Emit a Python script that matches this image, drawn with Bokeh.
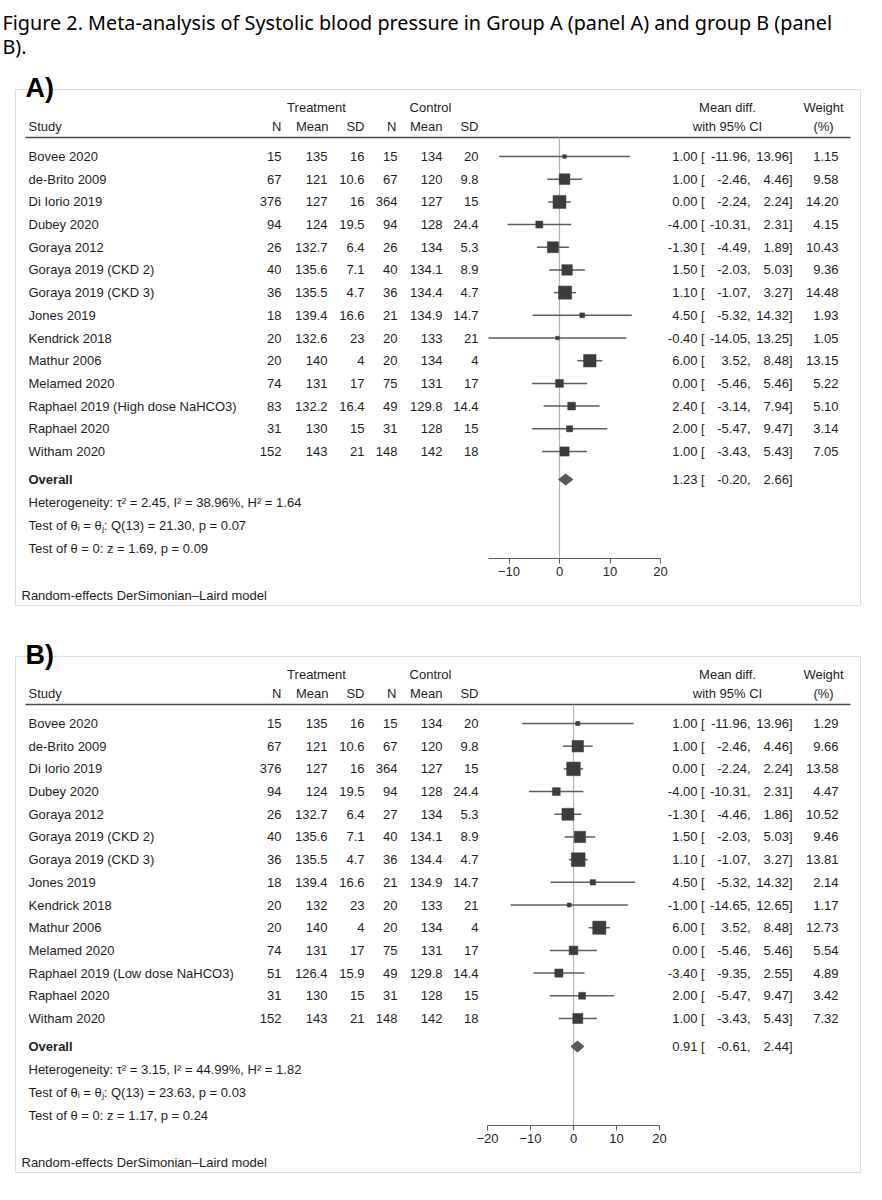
from bokeh.plotting import figure
from bokeh.models import Range1d, LinearAxis, FixedTicker
from bokeh.core.properties import value
from bokeh.embed import file_html
from bokeh.resources import INLINE

# ---------------- data ----------------
title_lines = ["Figure 2. Meta-analysis of Systolic blood pressure in Group A (panel A) and group B (panel",
               "B)."]

studies_a = ["Bovee 2020", "de-Brito 2009", "Di Iorio 2019", "Dubey 2020", "Goraya 2012",
             "Goraya 2019 (CKD 2)", "Goraya 2019 (CKD 3)", "Jones 2019", "Kendrick 2018",
             "Mathur 2006", "Melamed 2020", "Raphael 2019 (High dose NaHCO3)", "Raphael 2020",
             "Witham 2020"]
t_n_a = ["15", "67", "376", "94", "26", "40", "36", "18", "20", "20", "74", "83", "31", "152"]
t_mean_a = ["135", "121", "127", "124", "132.7", "135.6", "135.5", "139.4", "132.6", "140", "131", "132.2", "130", "143"]
t_sd_a = ["16", "10.6", "16", "19.5", "6.4", "7.1", "4.7", "16.6", "23", "4", "17", "16.4", "15", "21"]
c_n_a = ["15", "67", "364", "94", "26", "40", "36", "21", "20", "20", "75", "49", "31", "148"]
c_mean_a = ["134", "120", "127", "128", "134", "134.1", "134.4", "134.9", "133", "134", "131", "129.8", "128", "142"]
c_sd_a = ["20", "9.8", "15", "24.4", "5.3", "8.9", "4.7", "14.7", "21", "4", "17", "14.4", "15", "18"]
md_a = [1.00, 1.00, 0.00, -4.00, -1.30, 1.50, 1.10, 4.50, -0.40, 6.00, 0.00, 2.40, 2.00, 1.00]
lo_a = [-11.96, -2.46, -2.24, -10.31, -4.49, -2.03, -1.07, -5.32, -14.05, 3.52, -5.46, -3.14, -5.47, -3.43]
hi_a = [13.96, 4.46, 2.24, 2.31, 1.89, 5.03, 3.27, 14.32, 13.25, 8.48, 5.46, 7.94, 9.47, 5.43]
w_a = [1.15, 9.58, 14.20, 4.15, 10.43, 9.36, 14.48, 1.93, 1.05, 13.15, 5.22, 5.10, 3.14, 7.05]
overall_a = [1.23, -0.20, 2.66]
stats_a = ["Heterogeneity: \u03c4\u00b2 = 2.45, I\u00b2 = 38.96%, H\u00b2 = 1.64",
           "Test of \u03b8\u1d62 = \u03b8\u2c7c: Q(13) = 21.30, p = 0.07",
           "Test of \u03b8 = 0: z = 1.69, p = 0.09"]
ticks_a = [-10, 0, 10, 20]

studies_b = ["Bovee 2020", "de-Brito 2009", "Di Iorio 2019", "Dubey 2020", "Goraya 2012",
             "Goraya 2019 (CKD 2)", "Goraya 2019 (CKD 3)", "Jones 2019", "Kendrick 2018",
             "Mathur 2006", "Melamed 2020", "Raphael 2019 (Low dose NaHCO3)", "Raphael 2020",
             "Witham 2020"]
t_n_b = ["15", "67", "376", "94", "26", "40", "36", "18", "20", "20", "74", "51", "31", "152"]
t_mean_b = ["135", "121", "127", "124", "132.7", "135.6", "135.5", "139.4", "132", "140", "131", "126.4", "130", "143"]
t_sd_b = ["16", "10.6", "16", "19.5", "6.4", "7.1", "4.7", "16.6", "23", "4", "17", "15.9", "15", "21"]
c_n_b = ["15", "67", "364", "94", "27", "40", "36", "21", "20", "20", "75", "49", "31", "148"]
c_mean_b = ["134", "120", "127", "128", "134", "134.1", "134.4", "134.9", "133", "134", "131", "129.8", "128", "142"]
c_sd_b = ["20", "9.8", "15", "24.4", "5.3", "8.9", "4.7", "14.7", "21", "4", "17", "14.4", "15", "18"]
md_b = [1.00, 1.00, 0.00, -4.00, -1.30, 1.50, 1.10, 4.50, -1.00, 6.00, 0.00, -3.40, 2.00, 1.00]
lo_b = [-11.96, -2.46, -2.24, -10.31, -4.46, -2.03, -1.07, -5.32, -14.65, 3.52, -5.46, -9.35, -5.47, -3.43]
hi_b = [13.96, 4.46, 2.24, 2.31, 1.86, 5.03, 3.27, 14.32, 12.65, 8.48, 5.46, 2.55, 9.47, 5.43]
w_b = [1.29, 9.66, 13.58, 4.47, 10.52, 9.46, 13.81, 2.14, 1.17, 12.73, 5.54, 4.89, 3.42, 7.32]
overall_b = [0.91, -0.61, 2.44]
stats_b = ["Heterogeneity: \u03c4\u00b2 = 3.15, I\u00b2 = 44.99%, H\u00b2 = 1.82",
           "Test of \u03b8\u1d62 = \u03b8\u2c7c: Q(13) = 23.63, p = 0.03",
           "Test of \u03b8 = 0: z = 1.17, p = 0.24"]
ticks_b = [-20, -10, 0, 10, 20]

footnote = "Random-effects DerSimonian\u2013Laird model"

# ---------------- layout ----------------
W, H = 866, 1184
FONT = "Liberation Sans"
TC = "#1e1e1e"

# forest scales: (zero pixel, px per unit)
zero_a, sc_a = 559, 5.05
zero_b, sc_b = 573, 4.3

p = figure(width=W, height=H, output_backend="svg", toolbar_location=None,
           x_range=Range1d(0, W), y_range=Range1d(H, 0), min_border=0,
           x_axis_type=None, y_axis_type=None)
p.outline_line_color = None
p.background_fill_color = "white"
p.extra_x_ranges = {
    "fa": Range1d(-zero_a / sc_a, (W - zero_a) / sc_a),
    "fb": Range1d(-zero_b / sc_b, (W - zero_b) / sc_b),
}

# title
for i, t in enumerate(title_lines):
    p.text(x=[2], y=[22 + 24 * i], text=[t], text_font=value("Noto Sans"),
           text_font_size="19.8px", text_baseline="middle", text_align="left", text_color="black")


def txt(x, y, t, align="left", size="13px", style="normal", color=TC):
    p.text(x=x, y=y, text=t, text_font=value(FONT), text_font_size=size,
           text_font_style=style, text_baseline="middle", text_align=align, text_color=color)


def panel(dy, letter, rname, k, studies, tn, tm, tsd, cn, cm, csd, md, lo, hi, w,
          overall, stats, ticks, bounds):
    n = len(studies)
    rows_y = [156 + dy + i * 22.69 for i in range(n)]
    # frame box
    p.quad(left=15, right=860, top=89 + dy, bottom=605 + dy,
           fill_color=None, line_color="#dedede", line_width=1)
    txt([25], [87 + dy], [letter], size="27px", style="bold", color="black")
    # headers
    txt([316], [107 + dy], ["Treatment"], align="center")
    txt([430], [107 + dy], ["Control"], align="center")
    txt([727], [107 + dy], ["Mean diff."], align="center")
    txt([823], [107 + dy], ["Weight"], align="center")
    hy = 126 + dy
    txt([28], [hy], ["Study"])
    for cx, lab in zip([281, 328, 364, 396, 442, 478], ["N", "Mean", "SD", "N", "Mean", "SD"]):
        txt([cx], [hy], [lab], align="right")
    txt([727], [hy], ["with 95% CI"], align="center")
    txt([823], [hy], ["(%)"], align="center")
    p.segment(x0=[25], y0=[137 + dy], x1=[850], y1=[137 + dy],
              line_color="#4a4a4a", line_width=1.6)
    # table columns
    txt([28] * n, rows_y, studies)
    for cx, col in zip([281, 327, 364, 397, 442, 478], [tn, tm, tsd, cn, cm, csd]):
        txt([cx] * n, rows_y, col, align="right")
    txt([697] * n, rows_y, ["%.2f" % v for v in md], align="right")
    txt([700.5] * n, rows_y, ["["] * n)
    txt([750] * n, rows_y, ["%.2f," % v for v in lo], align="right")
    txt([792] * n, rows_y, ["%.2f]" % v for v in hi], align="right")
    txt([838] * n, rows_y, ["%.2f" % v for v in w], align="right")
    # overall row
    oy = 479 + dy
    txt([28], [oy], ["Overall"], style="bold")
    txt([697], [oy], ["%.2f" % overall[0]], align="right")
    txt([700.5], [oy], ["["])
    txt([750], [oy], ["%.2f," % overall[1]], align="right")
    txt([792], [oy], ["%.2f]" % overall[2]], align="right")
    for i, s in enumerate(stats):
        txt([28], [502 + 23 * i + dy], [s])
    txt([21], [595 + dy], [footnote])
    # forest
    p.segment(x0=[0], y0=[137 + dy], x1=[0], y1=[558 + dy], x_range_name=rname,
              line_color="#b4b4b4", line_width=1.2)
    p.segment(x0=lo, y0=rows_y, x1=hi, y1=rows_y, x_range_name=rname,
              line_color="#5e5e5e", line_width=1.5)
    p.scatter(x=md, y=rows_y, size=[k * v ** 0.5 for v in w], marker="square",
              x_range_name=rname, fill_color="#3c3c3c", line_color="#3c3c3c", line_width=0.5)
    p.patch(x=[overall[1], overall[0], overall[2], overall[0]],
            y=[oy, oy - 5.5, oy, oy + 5.5], x_range_name=rname,
            fill_color="#5a5a5a", line_color="#5a5a5a")
    ax = LinearAxis(x_range_name=rname, ticker=FixedTicker(ticks=ticks), bounds=bounds,
                    fixed_location=558 + dy)
    ax.axis_line_color = "#5a5a5a"
    ax.axis_line_width = 1.2
    ax.major_tick_line_color = "#5a5a5a"
    ax.major_tick_out = 5
    ax.major_tick_in = 0
    ax.minor_tick_line_color = None
    ax.major_label_text_font = FONT
    ax.major_label_text_font_size = "13px"
    ax.major_label_text_color = TC
    ax.major_label_standoff = 3
    p.add_layout(ax, "below")


panel(0, "A)", "fa", 3.45, studies_a, t_n_a, t_mean_a, t_sd_a, c_n_a, c_mean_a, c_sd_a,
      md_a, lo_a, hi_a, w_a, overall_a, stats_a, ticks_a, (min(lo_a), max(ticks_a)))
panel(567, "B)", "fb", 3.7, studies_b, t_n_b, t_mean_b, t_sd_b, c_n_b, c_mean_b, c_sd_b,
      md_b, lo_b, hi_b, w_b, overall_b, stats_b, ticks_b, (min(ticks_b), max(ticks_b)))

open("out.html", "w").write(file_html(p, INLINE))
